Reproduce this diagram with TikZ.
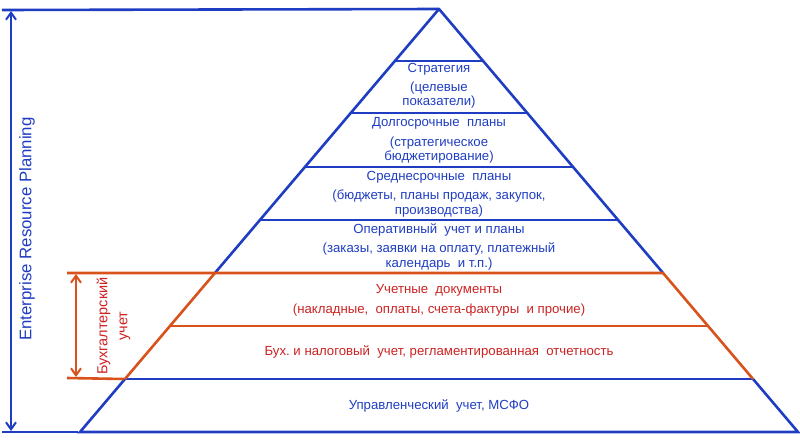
\documentclass[tikz,border=0pt]{standalone}
\usepackage{fontspec}
\setmainfont{Liberation Sans}
\usetikzlibrary{calc,arrows.meta}
\definecolor{pblue}{HTML}{1F3DC2}
\definecolor{porange}{HTML}{D9521C}
\definecolor{pred}{HTML}{CC2222}
\begin{document}
\begin{tikzpicture}[x=1pt,y=-1pt,
  bline/.style={draw=pblue,line width=2.6pt},
  oline/.style={draw=porange,line width=2.6pt},
  lbl/.style={align=center,font=\fontsize{13.2}{14.5}\selectfont,inner sep=0pt},
  blbl/.style={lbl,text=pblue},
  rlbl/.style={lbl,text=pred},
  dbl/.style={{Straight Barb[length=7pt,width=10pt]}-{Straight Barb[length=7pt,width=10pt]},line width=2pt}]
\useasboundingbox (0,0) rectangle (800,447);
% pyramid corners
\coordinate (apex) at (439,9);
\coordinate (BL) at (80,432);
\coordinate (BR) at (798,432);
\foreach \n/\d in {1/52,2/104,3/158,4/211,5/264,6/317,7/370}{
  \coordinate (L\n) at ($(apex)!\d/423!(BL)$);
  \coordinate (R\n) at ($(apex)!\d/423!(BR)$);
}
% blue sides and lines
\draw[bline,line join=round] (L5) -- (apex) -- (R5);
\draw[bline] (L7) -- (BL) -- (BR) -- (R7);
\draw[bline] (L1) -- (R1);
\draw[bline] (L2) -- (R2);
\draw[bline] (L3) -- (R3);
\draw[bline] (L4) -- (R4);
\draw[bline] (L7) -- (R7);
% orange sides and lines
\draw[oline] (L5) -- (L7);
\draw[oline] (R5) -- (R7);
\draw[oline] (L6) -- (R6);
\coordinate (oT) at (67,273);
\coordinate (oB) at (67,378);
\draw[oline] (oT) -- (R5);
\draw[oline] (oB) -- ($(L7)+(-1,0)$);
% ERP frame
\coordinate (eT) at (2,10);
\coordinate (eB) at (2,432);
\coordinate (eBe) at (78,432);
\draw[bline] (eT) -- (apex);
\draw[bline] (eB) -- (eBe);
\coordinate (aT) at (11,11);
\coordinate (aB) at (11,431);
\draw[dbl,pblue] (aT) -- (aB);
\node[lbl,text=pblue,rotate=90,font=\fontsize{16.8}{18}\selectfont] (erp) at (27,229) {Enterprise Resource Planning};
% accounting arrow
\coordinate (bT) at (76,274);
\coordinate (bB) at (76,377);
\draw[dbl,porange] (bT) -- (bB);
\node[rlbl,rotate=90,font=\fontsize{14.5}{20}\selectfont] (buh) at (113.5,326) {Бухгалтерский\\учет};
% labels
\node[blbl] (t1a) at (439,69) {Стратегия};
\node[blbl] (t1b) at (439,95) {(целевые\\показатели)};
\node[blbl] (t2a) at (439,123) {Долгосрочные\ \ планы};
\node[blbl] (t2b) at (439,150) {(стратегическое\\бюджетирование)};
\node[blbl] (t3a) at (439,177) {Среднесрочные\ \ планы};
\node[blbl] (t3b) at (439,203.5) {(бюджеты,\ планы\ продаж,\ закупок,\\производства)};
\node[blbl] (t4a) at (439,230) {Оперативный\ \ учет и планы};
\node[blbl] (t4b) at (439,256.5) {(заказы,\ заявки на оплату,\ платежный\\календарь\ \ и т.п.)};
\node[rlbl] (t5a) at (439,290) {Учетные\ \ документы};
\node[rlbl] (t5b) at (439,310) {(накладные,\ \ оплаты,\ счета-фактуры\ \ и прочие)};
\node[rlbl] (t6) at (439,352) {Бух.\ и налоговый\ \ учет,\ регламентированная\ \ отчетность};
\node[blbl] (t7) at (439,406) {Управленческий\ \ учет,\ МСФО};
\end{tikzpicture}
\end{document}
